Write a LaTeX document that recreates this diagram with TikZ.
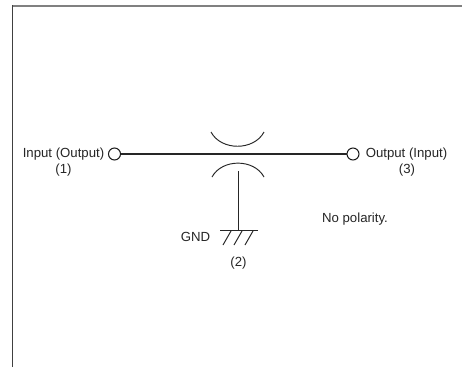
\documentclass[tikz,border=0pt]{standalone}
\usepackage{fontspec}
\setmainfont{Liberation Sans}
\definecolor{ink}{gray}{0.15}
\tikzset{
  wire/.style={draw=ink,line width=1.05pt},
  thin wire/.style={draw=ink,line width=0.95pt},
  term/.style={circle,draw=black!90,line width=1pt,fill=white,minimum size=12pt,inner sep=0pt,outer sep=0pt},
  lbl/.style={text=ink,font=\fontsize{13.2pt}{15pt}\selectfont,inner sep=0pt,outer sep=0pt,anchor=base}
}
\begin{document}
\begin{tikzpicture}[x=1pt,y=-1pt]
\useasboundingbox (0,0) rectangle (462,367);
\fill[white] (0,0) rectangle (462,367);
\draw[black!50,line width=1.7pt] (12.5,6) -- (462,6);
\draw[black!75,line width=1.1pt] (12.5,367) -- (12.5,5.2);
\node[term] (t1) at (114.5,154) {};
\node[term] (t3) at (353,154) {};
\draw[wire] (t1) -- (t3);
\draw[thin wire] (211,132) .. controls (221,151) and (254,151) .. (264,132);
\draw[thin wire] (212,177) .. controls (222,158.5) and (254,158.5) .. (264,177);
\coordinate (plate) at (238.5,171);
\coordinate (gnd) at (238.5,230.5);
\draw[wire] (plate) -- (gnd);
\draw[wire] (220,230.5) -- (258,230.5);
\draw[thin wire] (231,231) -- (223,245);
\draw[thin wire] (242,231) -- (234,245);
\draw[thin wire] (253,231) -- (245,245);
\node[lbl] (in) at (63.5,157) {Input (Output)};
\node[lbl] (n1) at (63.5,173.5) {(1)};
\node[lbl] (out) at (406.5,157) {Output (Input)};
\node[lbl] (n3) at (407,173.5) {(3)};
\node[lbl] (g) at (195.5,241) {GND};
\node[lbl] (n2) at (238.5,266) {(2)};
\node[lbl] (np) at (355,222) {No polarity.};
\end{tikzpicture}
\end{document}
